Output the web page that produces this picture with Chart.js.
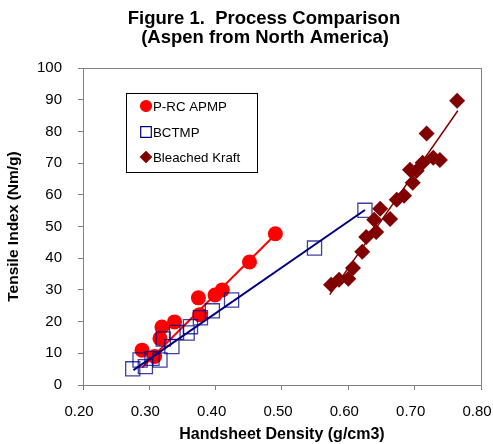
<!DOCTYPE html>
<html>
<head>
<meta charset="utf-8">
<script src="https://cdn.jsdelivr.net/npm/chart.js@4.4.1/dist/chart.umd.min.js"></script>
<style>
  body { margin: 0; background: #fff; }
  #wrap { width: 493px; height: 444px; position: relative; }
</style>
</head>
<body>
<div id="wrap"><canvas id="processChart"></canvas></div>
<script>
// P-RC APMP
const apmpDensity = [0.289, 0.308, 0.316, 0.319, 0.338, 0.376, 0.374, 0.399, 0.410, 0.451, 0.490];
const apmpTensile = [11.0, 9.0, 14.7, 18.3, 19.9, 22.2, 27.5, 28.4, 30.0, 38.8, 47.7];
// BCTMP
const bctmpDensity = [0.275, 0.286, 0.294, 0.304, 0.316, 0.321, 0.334, 0.341, 0.357, 0.362, 0.377, 0.395, 0.424, 0.549, 0.625];
const bctmpTensile = [5.1, 7.9, 5.8, 8.4, 7.9, 14.5, 12.1, 16.6, 16.4, 18.4, 21.2, 23.4, 26.8, 43.2, 55.1];
// Bleached Kraft
const kraftDensity = [0.574, 0.586, 0.600, 0.607, 0.621, 0.627, 0.642, 0.639, 0.648, 0.663, 0.673, 0.684, 0.697, 0.693, 0.703, 0.712, 0.728, 0.738, 0.718, 0.764];
const kraftTensile = [31.6, 33.2, 33.5, 36.9, 42.0, 46.7, 48.3, 52.1, 55.6, 52.4, 58.4, 59.7, 63.8, 67.9, 67.6, 70.1, 71.7, 71.0, 79.3, 89.7];

// trend line end points
const apmpTrend = [[0.289, 5.5], [0.490, 47.5]];
const bctmpTrend = [[0.276, 4.7], [0.625, 55.2]];
const kraftTrend = [[0.572, 28.5], [0.765, 86.5]];

const seriesNames = ["P-RC APMP", "BCTMP", "Bleached Kraft"];
const titleLines = ["Figure 1.  Process Comparison", "(Aspen from North America)"];

const RED = "#ff0000", NAVY = "#000080", MAROON = "#800000", AXIS = "#808080";
const FONT = "'Liberation Sans', Arial, sans-serif";

function pts(xs, ys) {
    return xs.map((x, i) => ({x: x, y: ys[i]}));
}
function trend(p) {
    return p.map((d) => ({x: d[0], y: d[1]}));
}

// two-line title, drawn over the canvas
const titlePlugin = {
    id: "figTitle",
    afterDraw(chart) {
        const ctx = chart.ctx;
        ctx.save();
        ctx.fillStyle = "#000";
        ctx.font = "bold 18.5px " + FONT;
        ctx.textAlign = "center";
        ctx.textBaseline = "middle";
        ctx.fillText(titleLines[0], 264, 19);
        ctx.fillText(titleLines[1], 265, 38);
        ctx.restore();
    }
};

// frame round the plot area + boxed legend inside it
const framePlugin = {
    id: "frame",
    beforeDatasetsDraw(chart) {
        const a = chart.chartArea, ctx = chart.ctx;
        ctx.save();
        ctx.strokeStyle = AXIS;
        ctx.lineWidth = 1;
        ctx.strokeRect(Math.round(a.left) + 0.5, Math.round(a.top) + 0.5,
            Math.round(a.right - a.left), Math.round(a.bottom - a.top));
        ctx.restore();
    },
    afterDraw(chart) {
        const ctx = chart.ctx;
        ctx.save();
        ctx.fillStyle = "#fff";
        ctx.fillRect(126, 93, 131, 79);
        ctx.strokeStyle = "#000";
        ctx.lineWidth = 1;
        ctx.strokeRect(126.5, 93.5, 131, 79);
        const styles = [
            {pointStyle: "circle", radius: 5.5, fill: RED, stroke: RED},
            {pointStyle: "rect", radius: 7.5, fill: "rgba(0,0,0,0)", stroke: NAVY},
            {pointStyle: "rectRot", radius: 5.5, fill: MAROON, stroke: MAROON}
        ];
        const rows = [106, 132, 157];
        ctx.font = "13.3px " + FONT;
        ctx.textBaseline = "middle";
        styles.forEach((s, i) => {
            ctx.fillStyle = s.fill;
            ctx.strokeStyle = s.stroke;
            ctx.lineWidth = 1.2;
            Chart.helpers.drawPoint(ctx, {pointStyle: s.pointStyle, radius: s.radius, borderWidth: 1.2, rotation: 0}, 146, rows[i]);
            ctx.fillStyle = "#000";
            ctx.fillText(seriesNames[i], 153, rows[i] + 1);
        });
        ctx.restore();
    }
};

const ctx = document.getElementById("processChart").getContext("2d");

new Chart(ctx, {
    type: "scatter",
    data: {
        datasets: [
            {
                label: seriesNames[0],
                data: pts(apmpDensity, apmpTensile),
                pointStyle: "circle",
                pointRadius: 7.5,
                backgroundColor: RED,
                borderColor: RED,
                borderWidth: 0,
                order: 6
            },
            {
                type: "line",
                label: "apmp trend",
                data: trend(apmpTrend),
                borderColor: RED,
                borderWidth: 2,
                pointRadius: 0,
                fill: false,
                order: 5
            },
            {
                label: seriesNames[1],
                data: pts(bctmpDensity, bctmpTensile),
                pointStyle: "rect",
                pointRadius: 10,
                backgroundColor: "rgba(0,0,0,0)",
                borderColor: "rgba(0,0,128,0.75)",
                borderWidth: 1.3,
                order: 4
            },
            {
                type: "line",
                label: "bctmp trend",
                data: trend(bctmpTrend),
                borderColor: NAVY,
                borderWidth: 2,
                pointRadius: 0,
                fill: false,
                order: 3
            },
            {
                label: seriesNames[2],
                data: pts(kraftDensity, kraftTensile),
                pointStyle: "rectRot",
                pointRadius: 8,
                backgroundColor: MAROON,
                borderColor: MAROON,
                borderWidth: 0,
                order: 2
            },
            {
                type: "line",
                label: "kraft trend",
                data: trend(kraftTrend),
                borderColor: MAROON,
                borderWidth: 1.5,
                pointRadius: 0,
                fill: false,
                order: 1
            }
        ]
    },
    options: {
        responsive: true,
        maintainAspectRatio: false,
        animation: false,
        layout: {
            padding: {top: 68, right: 12, bottom: 0, left: 0}
        },
        plugins: {
            legend: {display: false},
            tooltip: {enabled: false},
            title: {display: false}
        },
        scales: {
            x: {
                type: "linear",
                min: 0.2,
                max: 0.8,
                ticks: {
                    stepSize: 0.1,
                    color: "#000",
                    padding: 13,
                    labelOffset: -4,
                    font: {family: FONT, size: 15},
                    callback: (v) => v.toFixed(2)
                },
                grid: {drawOnChartArea: false, drawTicks: true, tickLength: 5, color: AXIS},
                border: {color: AXIS},
                title: {
                    display: true,
                    text: "Handsheet Density (g/cm3)",
                    color: "#000",
                    font: {family: FONT, size: 16, weight: "bold"},
                    padding: {top: 0, bottom: 0}
                },
                afterFit: (s) => {
                    s.height = 59;
                    s.paddingLeft = 0;
                    s.paddingRight = 0;
                }
            },
            y: {
                type: "linear",
                min: 0,
                max: 100,
                ticks: {
                    stepSize: 10,
                    color: "#000",
                    padding: 16,
                    font: {family: FONT, size: 15}
                },
                grid: {drawOnChartArea: false, drawTicks: true, tickLength: 5, color: AXIS},
                border: {color: AXIS},
                title: {
                    display: true,
                    text: "Tensile Index (Nm/g)",
                    color: "#000",
                    font: {family: FONT, size: 15.5, weight: "bold"},
                    padding: {top: 4, bottom: 0}
                },
                afterFit: (s) => {
                    s.width = 83;
                    s.paddingTop = 0;
                    s.paddingBottom = 0;
                }
            }
        }
    },
    plugins: [titlePlugin, framePlugin]
});
</script>
</body>
</html>
